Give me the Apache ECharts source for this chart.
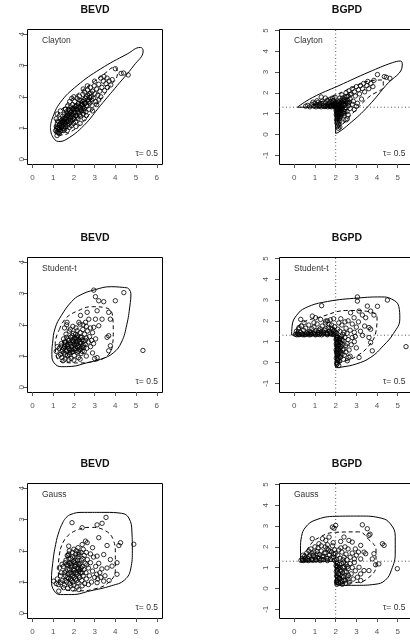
<!DOCTYPE html>
<html><head><meta charset="utf-8">
<script src="https://cdn.jsdelivr.net/npm/echarts@6/dist/echarts.min.js"></script>
<style>html,body{margin:0;padding:0;background:#fff}#c{width:410px;height:641px}</style>
</head><body><div id="c"></div><script>
const FONT = '"Liberation Sans", Arial, Helvetica, sans-serif';
const columnTitles = ['BEVD', 'BGPD'];
const copulaNames = ['Clayton', 'Student-t', 'Gauss'];
const tauLabel = 'τ= 0.5';
const bevdXTicks = [0, 1, 2, 3, 4, 5, 6];
const bevdYTicks = [0, 1, 2, 3, 4];
const bgpdXTicks = [0, 1, 2, 3, 4, 5, 6];
const bgpdYTicks = [-1, 0, 1, 2, 3, 4, 5];
const thresholdX = [2];
const thresholdY = [1.31];

// ---------- Clayton ----------
const claytonBevdPoints = [
[1.12,0.92],[1.15,1.05],[1.18,0.98],[1.2,1.12],[1.22,0.88],[1.25,1.0],[1.27,1.2],[1.3,0.95],[1.3,1.08],[1.33,1.3],[1.35,0.9],[1.37,1.15],[1.4,1.02],[1.42,1.25],[1.44,0.93],[1.46,1.38],[1.48,1.1],[1.5,1.0],[1.52,1.22],[1.54,1.45],[1.56,0.97],[1.58,1.15],[1.6,1.32],[1.62,1.05],[1.64,1.52],[1.66,1.2],[1.68,0.92],[1.7,1.4],[1.72,1.1],[1.74,1.6],[1.76,1.28],[1.78,1.02],[1.8,1.45],[1.82,1.18],[1.84,1.68],[1.86,1.35],[1.88,1.08],[1.9,1.55],[1.92,1.25],[1.94,1.75],[1.96,1.42],[1.98,1.15],[2.0,1.62],[2.02,1.3],[2.04,1.85],[2.06,1.5],[2.08,1.2],[2.1,1.7],[2.12,1.4],[2.15,1.95],[2.17,1.58],[2.2,1.3],[2.22,1.78],[2.25,1.48],[2.27,2.02],[2.3,1.65],[2.32,1.38],[2.35,1.88],[2.38,1.55],[2.4,1.75],[2.43,2.08],[2.45,1.45],[2.48,1.9],[2.5,1.62],[2.52,2.15],[2.55,1.8],[2.58,1.52],[2.6,2.0],[2.63,1.7],[2.66,2.22],[2.7,1.9],[2.72,1.6],[2.75,2.1],[2.78,1.8],[2.8,2.3],[2.84,2.0],[2.88,1.72],[2.9,2.18],[2.94,1.95],[2.98,2.35],[3.02,2.1],[3.06,1.85],[3.1,2.25],[3.15,2.05],[3.2,2.4],[3.25,2.18],[3.3,2.0],[3.35,2.3],[3.42,2.5],[3.48,2.2],[3.55,2.42],[3.6,2.6],[3.62,2.3],[3.7,2.5],[3.78,2.38],[3.85,2.55],[4.0,2.9],[4.28,2.75],[4.4,2.76],[4.62,2.7],
[1.25,0.85],[1.45,1.18],[1.55,1.3],[1.65,1.38],[1.75,1.45],[1.85,1.5],[1.95,1.6],[2.05,1.68],[2.15,1.72],[2.25,1.9],[2.35,1.72],[2.45,1.68],[1.6,1.6],[1.7,1.7],[1.8,1.85],[1.9,1.95],[2.0,2.0],[2.1,1.05],[2.3,1.15],[2.5,1.3],[2.6,1.4],[2.9,1.55],[3.1,1.75],[3.2,1.9],[1.15,1.3],[1.2,1.45],[1.35,1.55],[2.45,2.25],[2.65,2.35],[3.0,2.5],[3.3,2.6],[3.45,2.65],[1.19,0.76],[1.3,0.82],[1.6,1.61],
[1.22,1.02],[1.28,0.95],[1.32,1.12],[1.38,1.22],[1.42,1.08],[1.48,1.3],[1.52,0.92],[1.56,1.2],[1.6,1.12],[1.64,1.28],[1.68,1.45],[1.72,1.22],[1.76,1.36],[1.8,1.55],[1.84,1.25],[1.88,1.42],[1.92,1.62],[1.96,1.32],[2.0,1.48],[2.04,1.58],[2.08,1.4],[2.12,1.62],[2.16,1.35],[2.2,1.52],[2.24,1.68],[2.28,1.42],[2.32,1.58],[2.36,1.8],[2.4,1.62],[2.44,1.85],[2.48,1.55],[2.52,1.78],[2.56,1.95],[2.6,1.72],[2.64,1.9],[2.68,2.05],[2.72,1.85],[2.76,1.98],[2.82,2.12],[2.86,1.9]
];
const claytonBevdOuter = [[0.87,1.02],[0.95,1.29],[1.35,1.82],[2.16,2.36],[3.28,2.89],[4.57,3.37],[5.21,3.58],[5.34,3.47],[4.89,3.0],[4.09,2.36],[3.28,1.72],[2.48,1.08],[1.67,0.65],[1.27,0.57],[0.95,0.76],[0.87,1.02]];
const claytonBevdInner = [[1.08,0.95],[1.15,1.3],[1.55,1.7],[2.2,2.1],[2.9,2.45],[3.5,2.75],[3.95,2.95],[4.1,2.75],[3.7,2.3],[3.1,1.75],[2.5,1.25],[1.9,0.9],[1.4,0.78],[1.12,0.8],[1.08,0.95]];

const claytonBgpdPoints = [
[0.55,1.36],[0.65,1.4],[0.75,1.33],[0.85,1.45],[0.95,1.36],[1.0,1.5],[1.05,1.33],[1.1,1.42],[1.15,1.55],[1.2,1.35],[1.25,1.47],[1.3,1.33],[1.35,1.6],[1.4,1.4],[1.45,1.34],[1.5,1.52],[1.55,1.38],[1.6,1.65],[1.62,1.33],[1.65,1.46],[1.7,1.36],[1.72,1.58],[1.75,1.7],[1.78,1.42],[1.8,1.33],[1.82,1.52],[1.85,1.75],[1.88,1.38],[1.9,1.62],[1.92,1.45],[1.95,1.34],[1.97,1.8],[1.98,1.55],
[2.02,1.25],[2.05,1.1],[2.03,0.95],[2.08,1.2],[2.1,0.8],[2.04,0.7],[2.12,1.05],[2.06,0.55],[2.15,0.9],[2.09,0.4],[2.18,1.15],[2.2,0.65],[2.05,1.28],[2.13,0.3],[2.22,1.0],[2.25,0.85],[2.28,1.2],[2.3,0.6],[2.35,1.05],[2.4,0.9],[2.45,1.2],[2.5,0.7],[2.55,1.1],[2.6,0.95],[2.2,0.36],[2.15,0.5],[2.07,0.85],[2.11,1.3],[2.17,0.75],[2.24,1.27],[2.56,0.75],
[2.05,1.45],[2.1,1.6],[2.15,1.4],[2.2,1.75],[2.25,1.5],[2.3,1.9],[2.35,1.62],[2.4,1.4],[2.45,1.8],[2.5,2.0],[2.55,1.55],[2.6,1.85],[2.65,2.1],[2.7,1.7],[2.75,1.95],[2.8,2.2],[2.85,1.6],[2.9,2.05],[2.95,1.85],[3.0,2.3],[3.05,1.5],[3.1,2.15],[3.15,1.95],[3.2,2.35],[3.25,1.7],[3.3,2.2],[3.35,2.45],[3.4,2.05],[3.5,2.35],[3.55,2.55],[3.6,2.2],[3.7,2.45],[3.8,2.3],[3.85,2.6],[4.02,2.88],[4.35,2.78],[4.45,2.75],[4.62,2.7],
[2.3,1.35],[2.5,1.3],[2.7,1.25],[2.9,1.2],[3.0,1.35],[2.8,1.45],[2.6,1.5],[2.4,1.6],[2.2,1.3],[2.35,1.45],[1.3,1.8],[1.5,1.75],[1.1,1.62],[0.9,1.55],
[2.02,1.35],[2.06,1.5],[2.1,1.38],[2.14,1.55],[2.18,1.45],[2.22,1.62],[2.26,1.38],[2.3,1.55],[2.34,1.75],[2.38,1.5],[2.42,1.68],[2.46,1.42],[2.5,1.6],[2.54,1.82],[2.58,1.65],[2.62,1.38],[2.66,1.55],[2.7,1.92],[2.02,1.15],[2.04,1.02],[2.06,0.88],[2.08,0.75],[2.1,0.62],[2.12,1.18],[2.14,1.08],[2.16,0.98],[2.18,0.85],[2.2,1.22],[2.24,1.12],[2.28,0.95],[2.32,1.25],[2.36,1.15],[2.4,1.0],[2.44,1.1],[1.6,1.42],[1.7,1.5],[1.8,1.4],[1.9,1.45],[1.75,1.35],[1.85,1.62],[1.95,1.5],[1.5,1.35],[1.4,1.5],[1.2,1.4]
];
const claytonBgpdOuter = [[0.15,1.31],[0.87,1.77],[2.16,2.35],[3.61,3.0],[4.74,3.45],[5.14,3.53],[5.22,3.34],[4.42,2.35],[3.45,1.23],[2.65,0.5],[2.16,0.12],[2.0,0.05]];
const claytonBgpdCorner = [[2.0,0.05],[2.0,1.31],[0.15,1.31]];
const claytonBgpdInner = [[0.9,1.4],[1.8,1.8],[2.8,2.25],[3.8,2.6],[4.3,2.62],[4.3,2.35],[3.6,1.8],[2.9,1.1],[2.35,0.5],[2.08,0.3]];

// ---------- Student-t ----------
const studentBevdPoints = [
[2.96,3.11],[4.41,3.03],[3.04,2.9],[3.2,2.77],[3.44,2.74],[4.0,2.77],[3.12,2.45],[2.64,2.4],[3.68,2.4],[2.32,2.3],[2.72,2.18],[3.04,2.18],[3.36,2.18],[3.76,2.18],[1.67,2.08],[2.24,2.08],[2.56,2.08],[3.2,1.97],[2.96,1.92],[1.83,1.86],[2.16,1.81],[3.68,1.65],[3.6,1.6],[3.76,1.33],[3.68,1.17],[3.12,0.95],[5.33,1.18],
[1.3,1.25],[1.35,1.05],[1.4,1.4],[1.42,0.95],[1.45,1.2],[1.5,1.55],[1.52,1.1],[1.55,1.3],[1.58,0.9],[1.6,1.45],[1.62,1.7],[1.65,1.15],[1.68,1.35],[1.7,1.02],[1.72,1.55],[1.75,1.25],[1.78,1.8],[1.8,1.1],[1.82,1.42],[1.85,1.6],[1.87,0.92],[1.9,1.3],[1.92,1.5],[1.95,1.15],[1.97,1.72],[2.0,1.38],[2.02,1.02],[2.05,1.58],[2.07,1.25],[2.1,1.9],[2.12,1.45],[2.15,1.12],[2.17,1.65],[2.2,1.35],[2.22,0.95],[2.25,1.52],[2.28,1.22],[2.3,1.75],[2.33,1.42],[2.35,1.08],[2.38,1.6],[2.4,1.3],[2.43,1.85],[2.45,1.48],[2.5,1.15],[2.52,1.7],[2.55,1.38],[2.6,1.58],[2.62,1.25],[2.65,1.8],[2.7,1.45],[2.75,1.62],[2.8,1.3],[2.85,1.5],[2.9,1.75],[2.95,1.4],[3.05,1.55],[1.25,1.0],[1.2,1.3],[1.15,1.15],[1.48,0.85],[1.75,0.88],[2.0,0.87],[2.3,0.9],[2.6,1.0],[2.9,1.1],[3.0,0.92],[1.55,1.9],[1.65,2.0],[1.95,1.95],[2.3,2.02],[2.45,2.0],[2.6,1.95],[2.8,1.9],[1.88,1.2],[1.98,1.48],[2.08,1.7],[2.18,1.28],[1.72,1.38],[1.62,1.22],[2.12,1.55],[2.32,1.6],[2.48,1.28],
[1.5,1.25],[1.55,1.45],[1.6,1.05],[1.65,1.6],[1.7,1.3],[1.75,1.5],[1.8,1.2],[1.85,1.38],[1.9,1.12],[1.92,1.65],[1.95,1.42],[2.0,1.22],[2.02,1.55],[2.05,1.35],[2.1,1.18],[2.12,1.38],[2.15,1.6],[2.2,1.48],[2.25,1.3],[2.3,1.45],[2.35,1.25],[2.4,1.52],[2.45,1.35],[2.55,1.5],[1.42,1.15],[1.38,1.32],[1.58,1.38],[1.78,1.05],[2.22,1.15],[2.4,1.15]
];
const studentBevdOuter = [[4.6,3.18],[3.8,3.22],[3.0,3.12],[2.3,2.95],[1.9,2.75],[1.4,2.3],[1.1,1.9],[0.97,1.4],[0.94,1.05],[1.05,0.78],[1.4,0.66],[1.9,0.67],[2.6,0.78],[3.3,0.9],[3.9,1.1],[4.3,1.45],[4.55,2.0],[4.7,2.6],[4.75,3.0],[4.6,3.18]];
const studentBevdInner = [[1.3,1.85],[1.6,2.2],[2.2,2.45],[2.9,2.58],[3.5,2.55],[3.85,2.35],[3.9,1.8],[3.85,1.3],[3.55,0.98],[2.9,0.82],[2.2,0.78],[1.5,0.8],[1.15,1.0],[1.1,1.4],[1.3,1.85]];

const studentBgpdPoints = [
[3.05,3.15],[3.05,2.95],[4.5,3.0],[4.02,2.7],[3.53,2.71],[1.32,2.73],[3.29,2.28],[3.45,2.15],[3.85,2.28],[3.69,2.47],[3.13,2.47],[2.72,2.39],[2.89,2.15],[3.61,1.68],[3.69,1.6],[3.61,1.2],[3.69,0.96],[3.77,0.56],[3.13,0.24],[2.64,0.24],[2.56,0.08],[5.4,0.76],[0.31,2.07],[0.47,1.91],[0.87,2.23],[1.03,2.15],[1.27,2.07],[1.52,1.99],[1.68,1.83],[0.95,1.91],[0.23,1.68],
[0.05,1.35],[0.1,1.5],[0.15,1.4],[0.2,1.6],[0.25,1.34],[0.3,1.45],[0.35,1.75],[0.4,1.38],[0.45,1.55],[0.5,1.33],[0.55,1.65],[0.6,1.42],[0.65,1.36],[0.7,1.8],[0.75,1.5],[0.8,1.34],[0.85,1.62],[0.9,1.4],[0.95,1.7],[1.0,1.35],[1.05,1.52],[1.1,1.85],[1.15,1.44],[1.2,1.34],[1.25,1.62],[1.3,1.48],[1.35,1.75],[1.4,1.37],[1.45,1.55],[1.5,1.9],[1.55,1.42],[1.6,1.33],[1.65,1.68],[1.7,1.5],[1.75,1.38],[1.8,1.8],[1.85,1.6],[1.9,1.35],[1.95,1.72],[1.98,1.45],[0.12,1.33],[0.42,1.33],[0.72,1.33],[1.02,1.33],[1.32,1.33],[1.62,1.4],[1.88,1.5],[1.75,2.05],[1.9,2.1],[1.6,2.0],
[0.2,1.34],[0.35,1.36],[0.55,1.35],[0.68,1.4],[0.82,1.37],[0.98,1.42],[1.12,1.36],[1.28,1.4],[1.42,1.45],[1.58,1.36],[1.72,1.42],[1.82,1.35],[1.92,1.55],[1.96,1.38],[1.78,1.62],[1.52,1.62],[1.18,1.55],[0.78,1.45],
[2.02,1.28],[2.05,1.1],[2.03,0.9],[2.08,1.2],[2.1,0.7],[2.04,0.5],[2.12,1.0],[2.06,0.3],[2.15,0.85],[2.09,0.1],[2.18,1.15],[2.2,0.55],[2.05,-0.1],[2.13,0.2],[2.22,0.95],[2.25,0.75],[2.28,1.25],[2.3,0.4],[2.35,1.05],[2.4,0.65],[2.45,1.2],[2.5,0.5],[2.55,0.9],[2.6,1.1],[2.15,-0.15],[2.1,0.4],[2.07,0.65],[2.17,0.05],[2.24,0.25],[2.32,0.85],[2.38,0.15],[2.42,0.35],[2.48,0.8],[2.65,0.6],[2.7,0.3],[2.75,0.85],[2.8,1.2],[2.9,1.0],[3.0,0.7],[2.95,1.25],
[2.02,1.1],[2.04,0.8],[2.06,0.95],[2.08,0.55],[2.1,1.2],[2.12,0.35],[2.14,0.6],[2.16,1.05],[2.18,0.3],[2.2,0.8],[2.22,1.15],[2.24,0.5],[2.26,0.95],[2.02,0.6],[2.03,0.2],[2.05,0.0],[2.08,-0.05],[2.1,0.15],[2.04,1.18],[2.06,0.42],[2.3,1.1],[2.34,0.6],[2.12,0.78],[2.16,0.45],
[2.05,1.4],[2.1,1.6],[2.2,1.5],[2.3,1.8],[2.4,1.45],[2.5,1.65],[2.6,2.0],[2.7,1.55],[2.8,1.85],[2.9,1.45],[3.0,1.7],[3.1,1.95],[3.2,1.5],[3.3,1.3],[3.4,1.75],[2.25,2.1],[2.45,1.95],[2.15,1.9],[2.35,1.35],[2.55,1.4]
];
const studentBgpdOuter = [[-0.13,1.32],[-0.1,1.8],[0.1,2.25],[0.55,2.63],[1.6,2.93],[3.1,3.1],[4.2,3.15],[4.7,3.05],[5.05,2.7],[5.1,2.1],[4.8,1.4],[4.3,0.8],[3.7,0.25],[3.0,-0.07],[2.3,-0.22],[2.0,-0.25]];
const studentBgpdCorner = [[2.0,-0.25],[2.0,1.32],[-0.13,1.32]];
const studentBgpdInner = [[0.1,1.4],[0.3,1.85],[1.3,2.2],[2.6,2.5],[3.6,2.45],[4.0,2.15],[3.95,1.5],[3.6,0.8],[3.0,0.3],[2.4,0.05],[2.05,0.0]];

// ---------- Gauss ----------
const gaussBevdPoints = [
[3.55,3.07],[1.91,2.9],[3.12,2.83],[3.36,2.88],[2.4,2.74],[2.56,2.31],[2.64,2.26],[2.4,2.2],[3.2,2.42],[3.6,2.17],[4.25,2.26],[4.17,2.17],[4.89,2.21],[1.75,2.15],[2.24,1.94],[3.44,1.88],[3.76,1.72],[4.08,1.62],[3.12,1.83],[3.6,1.45],[3.84,1.51],[4.08,1.25],[1.43,1.57],[1.03,1.03],[1.35,0.98],[1.27,0.71],[2.24,0.76],[3.12,0.98],[3.44,1.03],
[1.4,1.3],[1.45,1.05],[1.5,1.5],[1.55,0.9],[1.6,1.2],[1.62,1.7],[1.65,1.0],[1.7,1.4],[1.72,1.85],[1.75,1.12],[1.78,1.6],[1.8,0.95],[1.82,1.3],[1.85,1.75],[1.88,1.05],[1.9,1.48],[1.92,1.95],[1.95,1.2],[1.98,1.65],[2.0,0.9],[2.02,1.38],[2.05,1.8],[2.08,1.1],[2.1,1.55],[2.12,2.0],[2.15,1.25],[2.18,1.7],[2.2,0.98],[2.22,1.42],[2.25,1.88],[2.28,1.15],[2.3,1.6],[2.32,1.3],[2.35,1.95],[2.38,1.05],[2.4,1.5],[2.43,1.75],[2.45,1.2],[2.48,1.4],[2.5,1.85],[2.52,0.95],[2.55,1.6],[2.58,1.3],[2.6,1.1],[2.65,1.72],[2.7,1.45],[2.75,1.2],[2.8,1.62],[2.85,1.0],[2.9,1.35],[2.95,1.8],[3.0,1.15],[3.05,1.5],[3.1,1.25],[3.15,1.1],[3.2,1.6],[3.25,1.3],[3.3,1.15],[1.2,1.1],[1.25,0.92],[1.3,1.45],[1.35,1.2],[1.15,0.95],[1.58,1.62],[1.68,1.85],[1.78,2.0],[2.0,2.05],[2.2,2.1],[2.45,2.05],[2.6,1.95],[2.8,1.9],[2.9,2.1],[1.5,0.82],[1.7,0.8],[1.95,0.78],[2.15,0.84],[2.4,0.88],[2.7,0.92],[1.88,1.55],[2.05,1.62],[2.25,1.35],[1.72,1.25],[1.95,1.0],[2.35,1.45],[2.62,1.55],[3.35,1.42],[3.5,1.2],[3.7,1.05],
[1.62,1.35],[1.68,1.15],[1.72,1.55],[1.76,1.75],[1.8,1.4],[1.84,1.1],[1.86,1.6],[1.9,1.25],[1.94,1.8],[1.96,1.4],[2.0,1.15],[2.04,1.5],[2.06,1.7],[2.1,1.3],[2.14,1.05],[2.16,1.45],[2.2,1.8],[2.24,1.2],[2.26,1.55],[2.3,1.4],[2.36,1.7],[2.4,1.3],[1.55,1.3],[1.65,1.55],[1.75,1.9],[2.0,1.3],[2.1,1.9],[2.2,1.6],[1.58,1.05],[1.85,0.88]
];
const gaussBevdOuter = [[1.5,2.95],[1.8,3.15],[2.5,3.23],[3.5,3.23],[4.3,3.2],[4.65,3.05],[4.8,2.6],[4.82,2.0],[4.75,1.45],[4.45,1.07],[3.8,0.88],[2.8,0.72],[1.9,0.6],[1.35,0.6],[1.05,0.72],[0.92,1.05],[0.98,1.6],[1.12,2.2],[1.3,2.65],[1.5,2.95]];
const gaussBevdInner = [[1.35,2.05],[1.6,2.4],[2.1,2.65],[2.8,2.75],[3.5,2.65],[3.9,2.35],[4.0,1.9],[4.0,1.4],[3.7,1.0],[3.0,0.78],[2.2,0.72],[1.6,0.75],[1.3,0.95],[1.25,1.5],[1.35,2.05]];

const gaussBgpdPoints = [
[1.84,2.95],[2.0,3.03],[1.92,2.9],[3.29,3.06],[3.53,2.87],[3.66,2.61],[3.61,2.55],[3.21,2.07],[2.8,2.23],[2.64,2.31],[2.4,2.47],[2.24,2.26],[1.68,2.47],[1.52,2.31],[1.19,2.15],[0.87,2.39],[1.36,2.39],[4.26,2.15],[4.34,2.07],[3.37,1.75],[3.45,1.67],[3.85,1.67],[3.77,1.42],[4.09,1.18],[3.93,1.14],[3.21,1.42],[3.13,1.02],[3.37,0.86],[3.21,0.7],[3.61,0.86],[3.05,0.54],[3.21,0.38],[4.98,0.95],
[0.32,1.35],[0.38,1.42],[0.45,1.34],[0.5,1.55],[0.55,1.38],[0.6,1.7],[0.65,1.45],[0.7,1.34],[0.75,1.6],[0.8,1.9],[0.85,1.42],[0.9,1.35],[0.95,1.75],[1.0,1.5],[1.05,1.36],[1.1,1.65],[1.15,1.95],[1.2,1.44],[1.25,1.34],[1.3,1.8],[1.35,1.55],[1.4,1.38],[1.45,1.7],[1.5,2.0],[1.55,1.46],[1.6,1.34],[1.65,1.85],[1.7,1.6],[1.75,1.4],[1.8,1.75],[1.85,2.05],[1.9,1.5],[1.95,1.36],[1.98,1.68],[0.42,1.6],[0.7,1.8],[1.0,2.0],[1.3,2.05],[1.6,2.1],[1.88,2.2],
[0.4,1.36],[0.52,1.45],[0.62,1.36],[0.72,1.52],[0.82,1.38],[0.92,1.6],[1.02,1.4],[1.12,1.5],[1.22,1.62],[1.32,1.4],[1.42,1.52],[1.52,1.72],[1.62,1.45],[1.72,1.8],[1.82,1.5],[1.9,1.65],[1.95,1.85],[1.1,1.78],[0.85,1.7],[1.58,1.9],
[2.02,1.27],[2.05,1.05],[2.03,0.8],[2.08,1.2],[2.1,0.55],[2.04,0.35],[2.12,0.95],[2.06,0.2],[2.15,0.7],[2.18,1.15],[2.2,0.45],[2.22,0.9],[2.25,0.28],[2.28,1.2],[2.3,0.6],[2.35,1.0],[2.4,0.4],[2.45,0.8],[2.5,1.15],[2.55,0.55],[2.6,0.95],[2.65,0.3],[2.7,1.2],[2.75,0.7],[2.8,1.0],[2.85,0.45],[2.9,1.25],[2.95,0.85],[2.12,0.3],[2.32,0.2],[2.48,0.25],[2.62,0.62],[2.38,1.25],[2.18,0.5],
[2.02,1.1],[2.04,0.6],[2.06,0.9],[2.08,0.4],[2.1,1.05],[2.12,0.7],[2.14,0.5],[2.16,0.25],[2.2,1.0],[2.22,0.65],[2.26,0.85],[2.3,0.35],[2.34,0.75],[2.38,0.55],[2.42,1.05],[2.46,0.4],[2.52,0.8],[2.56,1.05],[2.6,0.45],[2.05,0.28],
[2.05,1.4],[2.1,1.6],[2.2,1.45],[2.3,1.75],[2.4,1.5],[2.5,1.65],[2.6,1.9],[2.7,1.5],[2.8,1.7],[2.9,1.42],[3.0,1.6],[2.25,1.95],[2.45,2.0],[2.15,1.85],[2.35,1.38],[2.55,1.38],[2.95,1.9],[3.1,1.75]
];
const gaussBgpdOuter = [[0.3,1.31],[0.3,1.9],[0.35,2.5],[0.55,2.95],[1.0,3.28],[2.0,3.47],[3.2,3.48],[4.2,3.38],[4.65,3.1],[4.88,2.5],[4.88,1.7],[4.7,0.9],[4.4,0.4],[3.9,0.2],[3.0,0.15],[2.2,0.15],[2.0,0.2]];
const gaussBgpdCorner = [[2.0,0.2],[2.0,1.31],[0.3,1.31]];
const gaussBgpdInner = [[0.5,1.5],[0.7,2.0],[1.2,2.45],[2.0,2.7],[3.1,2.72],[3.6,2.35],[3.95,1.85],[3.95,1.1],[3.5,0.45],[2.9,0.28],[2.2,0.25]];

// ---------- layout ----------
const rowTops = [29, 257, 483];
const PLOT_H = 135;
const leftCol = { left: 27, width: 135, xMin: -0.26, xMax: 6.25, yMin: -0.15, yMax: 4.17, ylabMargin: 1.5 };
const rightCol = { left: 279, width: 145, xMin: -0.74, xMax: 6.27, yMin: -1.42, yMax: 5.07, ylabMargin: 9 };

const panels = [
  { row: 0, col: 0, pts: claytonBevdPoints, outer: claytonBevdOuter, inner: claytonBevdInner },
  { row: 0, col: 1, pts: claytonBgpdPoints, outer: claytonBgpdOuter, inner: claytonBgpdInner, corner: claytonBgpdCorner },
  { row: 1, col: 0, pts: studentBevdPoints, outer: studentBevdOuter, inner: studentBevdInner },
  { row: 1, col: 1, pts: studentBgpdPoints, outer: studentBgpdOuter, inner: studentBgpdInner, corner: studentBgpdCorner },
  { row: 2, col: 0, pts: gaussBevdPoints, outer: gaussBevdOuter, inner: gaussBevdInner },
  { row: 2, col: 1, pts: gaussBgpdPoints, outer: gaussBgpdOuter, inner: gaussBgpdInner, corner: gaussBgpdCorner }
];

const grid = [], xAxis = [], yAxis = [], series = [], graphic = [];

panels.forEach((p, i) => {
  const c = p.col === 0 ? leftCol : rightCol;
  const top = rowTops[p.row];
  grid.push({ left: c.left, top: top, width: c.width, height: PLOT_H, show: false, outerBoundsMode: 'none', containLabel: false });
  const xt = p.col === 0 ? bevdXTicks : bgpdXTicks;
  const yt = p.col === 0 ? bevdYTicks : bgpdYTicks;
  xAxis.push({ type: 'value', gridIndex: i, min: c.xMin, max: c.xMax,
    axisLine: { show: false, onZero: false }, splitLine: { show: false },
    axisTick: { show: true, length: 4, customValues: xt },
    axisLabel: { customValues: xt, margin: 10, fontSize: 8, fontFamily: FONT } });
  yAxis.push({ type: 'value', gridIndex: i, min: c.yMin, max: c.yMax,
    axisLine: { show: false, onZero: false }, splitLine: { show: false },
    axisTick: { show: true, length: 4, customValues: yt },
    axisLabel: { customValues: yt, rotate: 90, margin: c.ylabMargin, fontSize: 8, fontFamily: FONT } });

  if (p.corner) {
    const vLine = [[thresholdX[0], c.yMin], [thresholdX[0], c.yMax]];
    const hLine = [[c.xMin, thresholdY[0]], [c.xMax, thresholdY[0]]];
    series.push({ type: 'line', xAxisIndex: i, yAxisIndex: i, data: vLine, showSymbol: false, z: 2,
      lineStyle: { color: '#555', width: 1, type: [1, 2.5] } });
    series.push({ type: 'line', xAxisIndex: i, yAxisIndex: i, data: hLine, showSymbol: false, z: 2,
      lineStyle: { color: '#555', width: 1, type: [1, 2.5] } });
    series.push({ type: 'line', xAxisIndex: i, yAxisIndex: i, data: p.corner, showSymbol: false, z: 3,
      lineStyle: { color: '#000', width: 1 } });
  }
  series.push({ type: 'line', xAxisIndex: i, yAxisIndex: i, data: p.outer, showSymbol: false, smooth: 0.45, z: 3,
    lineStyle: { color: '#000', width: 1 } });
  series.push({ type: 'line', xAxisIndex: i, yAxisIndex: i, data: p.inner, showSymbol: false, smooth: 0.45, z: 3,
    lineStyle: { color: '#000', width: 1, type: [4, 3] } });
  series.push({ type: 'scatter', xAxisIndex: i, yAxisIndex: i, data: p.pts, symbol: 'circle', symbolSize: 4.4, z: 4,
    itemStyle: { color: 'rgba(0,0,0,0)', borderColor: '#000', borderWidth: 1 } });

  graphic.push({ type: 'rect', shape: { x: c.left + 0.5, y: top + 0.5, width: c.width, height: PLOT_H },
    style: { fill: 'none', stroke: '#000', lineWidth: 1 } });
  const titleX = p.col === 0 ? 95 : 347;
  graphic.push({ type: 'text', x: titleX, y: top - 19,
    style: { text: columnTitles[p.col], font: 'bold 10.5px ' + FONT, fill: '#111', align: 'center', verticalAlign: 'middle' } });
  graphic.push({ type: 'text', x: c.left + 15, y: top + 12,
    style: { text: copulaNames[p.row], font: '8.5px ' + FONT, fill: '#333', align: 'left', verticalAlign: 'middle' } });
  graphic.push({ type: 'text', x: p.col === 0 ? c.left + 131 : 383, y: top + 125,
    style: { text: tauLabel, font: '8.5px ' + FONT, fill: '#333', align: p.col === 0 ? 'right' : 'left', verticalAlign: 'middle' } });
});

const chart = echarts.init(document.getElementById('c'), null, { renderer: 'canvas' });
chart.setOption({ animation: false, backgroundColor: '#fff', grid, xAxis, yAxis, series, graphic });
</script></body></html>
